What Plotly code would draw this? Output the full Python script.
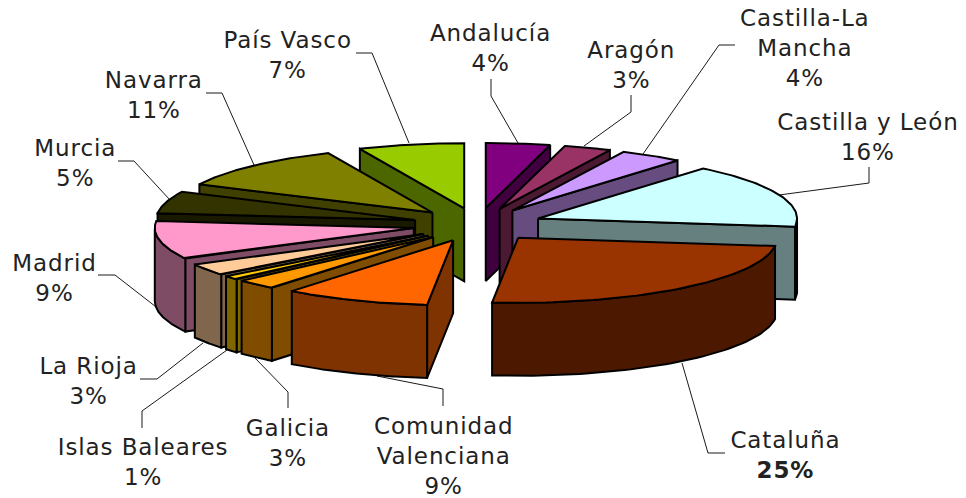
import numpy as np
import plotly.graph_objects as go

# Data, clockwise from 12 o'clock. Shares are estimates,
# the labels show them rounded.
regions = ['Andalucía', 'Aragón', 'Castilla-La<br>Mancha', 'Castilla y León', 'Cataluña',
           'Comunidad<br>Valenciana', 'Galicia', 'Islas Baleares', 'La Rioja', 'Madrid',
           'Murcia', 'Navarra', 'País Vasco']
values = [4, 3, 4, 16, 24.6, 9.1, 2.55, 1, 2.95, 9.49, 5.49, 11.22, 6.6]
colors = ['#800080', '#993366', '#CC99FF', '#CCFFFF', '#993300', '#FF6600', '#FF9900',
          '#FFCC00', '#FFCC99', '#FF99CC', '#333300', '#808000', '#99CC00']

# Label placement (pixels, same as the axes)
label_x = [490, 631, 805, 868, 785, 443, 288, 143, 88, 54, 75, 154, 287]
label_y = [48, 65, 48, 137, 455, 456, 443, 462, 381, 278, 163, 95, 55]
leaders = [
    [(491, 79), (491, 96), (518, 143)],
    [(631, 95), (631, 112), (584, 146)],
    [(735, 45), (719, 45), (643, 154)],
    [(869, 167), (869, 183), (779, 195)],
    [(725, 453), (708, 453), (682, 363)],
    [(443, 406), (443, 389), (377, 376)],
    [(288, 408), (288, 392), (255, 358)],
    [(142, 428), (142, 411), (227, 350)],
    [(140, 379), (157, 379), (203, 343)],
    [(98, 275), (115, 275), (160, 310)],
    [(118, 161), (134, 161), (170, 200)],
    [(206, 93), (222, 93), (254, 165)],
    [(356, 53), (372, 53), (409, 143)],
]

# Pie projection
CX, CY = 477.6, 224.7      # centre before explosion
RX, RY = 259, 65           # top ellipse
EX, EY = 65, 16.8          # explosion offset
DEPTH = 73


def darken(hex_color):
    r, g, b = (int(hex_color[i:i + 2], 16) for i in (1, 3, 5))
    return f'rgb({r // 2},{g // 2},{b // 2})'


def add_poly(fig, xs, ys, color):
    fig.add_trace(go.Scatter(x=xs, y=ys, mode='lines', fill='toself', fillcolor=color,
                             line=dict(color='black', width=2), hoverinfo='skip',
                             showlegend=False))


fig = go.Figure()

# Leader lines sit behind the slices
for pts in leaders:
    fig.add_trace(go.Scatter(x=[p[0] for p in pts], y=[p[1] for p in pts], mode='lines',
                             line=dict(color='#1a1a1a', width=1), hoverinfo='skip',
                             showlegend=False))

edges = 2 * np.pi * np.cumsum([0] + values) / sum(values)
mids = (edges[:-1] + edges[1:]) / 2

# Back slices first so that the front ones paint over them
for i in np.argsort(-np.cos(mids)):
    a0, a1 = edges[i], edges[i + 1]
    ax = CX + EX * np.sin(mids[i])
    ay = CY - EY * np.cos(mids[i])
    t = np.linspace(a0, a1, 60)
    rim_x = ax + RX * np.sin(t)
    rim_y = ay - RY * np.cos(t)
    side = darken(colors[i])

    # cut faces, only those turned towards the viewer
    if np.sin(a0) < -1e-6:
        add_poly(fig, [ax, rim_x[0], rim_x[0], ax, ax],
                 [ay, rim_y[0], rim_y[0] + DEPTH, ay + DEPTH, ay], side)
    if np.sin(a1) > 1e-6:
        add_poly(fig, [ax, rim_x[-1], rim_x[-1], ax, ax],
                 [ay, rim_y[-1], rim_y[-1] + DEPTH, ay + DEPTH, ay], side)

    # outer wall, only the part that faces the viewer
    front = np.cos(t) < 0
    if front.any():
        wx, wy = rim_x[front], rim_y[front]
        add_poly(fig, np.r_[wx, wx[::-1], wx[0]], np.r_[wy, wy[::-1] + DEPTH, wy[0]], side)

    # top
    add_poly(fig, np.r_[ax, rim_x, ax], np.r_[ay, rim_y, ay], colors[i])

for i, name in enumerate(regions):
    pct = f'{round(values[i])}%'
    if name == 'Cataluña':
        pct = f'<b>{pct}</b>'
    fig.add_annotation(x=label_x[i], y=label_y[i], text=f'{name}<br>{pct}', showarrow=False,
                       xanchor='center', yanchor='middle', align='center',
                       font=dict(family='DejaVu Sans', size=23, color='#222222'))

fig.update_layout(width=966, height=498, margin=dict(l=0, r=0, t=0, b=0),
                  paper_bgcolor='white', plot_bgcolor='white', showlegend=False)
fig.update_xaxes(range=[0, 966], visible=False)
fig.update_yaxes(range=[498, 0], visible=False)

# Drop the page's default body margin and open the labels up a little like the original
post = '''document.body.style.margin = "0";
document.querySelectorAll(".annotation-text").forEach(function (t) {
    t.style.letterSpacing = "0.9px";
});'''
fig.write_html('out.html', config={'displayModeBar': False}, post_script=post)
